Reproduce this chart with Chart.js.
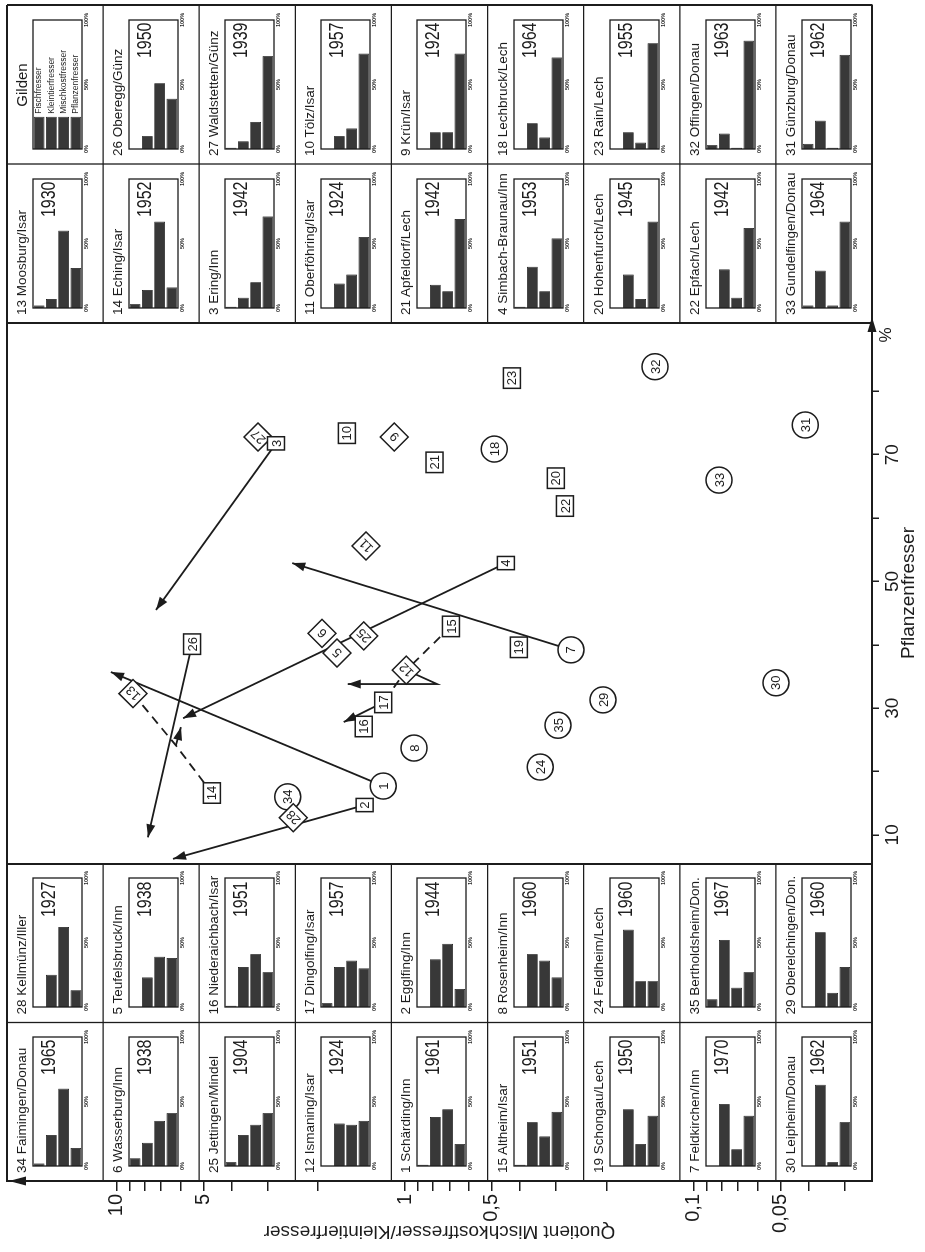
<!DOCTYPE html>
<html lang="de">
<head>
<meta charset="utf-8">
<title>Gilden – Quotient Mischkostfresser/Kleintierfresser</title>
<script src="https://cdn.jsdelivr.net/npm/chart.js@4.4.1/dist/chart.umd.min.js"></script>
<style>
  html, body { margin: 0; padding: 0; background: #fff; }
  body { width: 925px; height: 1252px; overflow: hidden; position: relative; }
  #sheet {
    position: absolute; left: 0; top: 0; width: 1252px; height: 925px;
    transform-origin: 0 0; transform: translate(0, 1252px) rotate(-90deg);
    font-family: "Liberation Sans", Arial, Helvetica, sans-serif; color: #1c1c1c;
  }
  #main { position: absolute; left: 0; top: 0; }
  .panel { position: absolute; }
  .panel canvas { position: absolute; left: 0; top: 0; }
  .ptitle { position: absolute; left: 8px; top: 6px; font-size: 13.5px; line-height: 17px; white-space: nowrap; }
  .ptitle.legend { left: 0; right: 0; text-align: center; font-size: 15px; }
  .pyear {
    position: absolute; right: 17px; top: 31px; font-size: 20px; line-height: 21px;
    transform: scaleX(0.8); transform-origin: 100% 50%; white-space: nowrap;
  }
</style>
</head>
<body>
<div id="sheet">
  <canvas id="main" width="1252" height="925"></canvas>
</div>
<script>
// ---- data (site number = index + 1) ----
const siteNames = ["Schärding/Inn", "Egglfing/Inn", "Ering/Inn", "Simbach-Braunau/Inn", "Teufelsbruck/Inn",
  "Wasserburg/Inn", "Feldkirchen/Inn", "Rosenheim/Inn", "Krün/Isar", "Tölz/Isar", "Oberföhring/Isar",
  "Ismaning/Isar", "Moosburg/Isar", "Eching/Isar", "Altheim/Isar", "Niederaichbach/Isar", "Dingolfing/Isar",
  "Lechbruck/Lech", "Schongau/Lech", "Hohenfurch/Lech", "Apfeldorf/Lech", "Epfach/Lech", "Rain/Lech",
  "Feldheim/Lech", "Jettingen/Mindel", "Oberegg/Günz", "Waldstetten/Günz", "Kellmünz/Iller",
  "Oberelchingen/Don.", "Leipheim/Donau", "Günzburg/Donau", "Offingen/Donau", "Gundelfingen/Donau",
  "Faimingen/Donau", "Bertholdsheim/Don."];
const siteYears = [1961, 1944, 1942, 1953, 1938, 1938, 1970, 1960, 1924, 1957, 1924, 1924, 1930, 1952, 1951,
  1951, 1957, 1964, 1950, 1945, 1942, 1942, 1955, 1960, 1904, 1950, 1939, 1927, 1960, 1962, 1962, 1963, 1964,
  1965, 1967];

// guild shares in % per site
const fischfresser     = [1, 0, 1, 1, 0, 6, 0, 0, 0, 0, 0, 0, 2, 3, 1, 1, 3, 0, 0, 0, 0, 0, 0, 0, 3, 0, 1, 0, 0, 0, 4, 3, 2, 2, 6];
const kleintierfresser = [38, 37, 8, 32, 23, 18, 48, 41, 13, 10, 19, 33, 7, 14, 34, 31, 31, 20, 44, 26, 18, 30, 13, 60, 24, 10, 6, 25, 58, 63, 22, 12, 29, 24, 52];
const mischkostfresser = [44, 49, 20, 13, 39, 35, 13, 36, 13, 16, 26, 32, 60, 67, 23, 41, 36, 9, 17, 7, 13, 8, 5, 20, 32, 51, 21, 62, 11, 3, 1, 1, 2, 60, 15];
const pflanzenfresser  = [17, 14, 71, 54, 38, 41, 39, 23, 74, 74, 55, 35, 31, 16, 42, 27, 30, 71, 39, 67, 69, 62, 82, 20, 41, 39, 72, 13, 31, 34, 73, 84, 67, 14, 27];

const guildNames = ["Fischfresser", "Kleintierfresser", "Mischkostfresser", "Pflanzenfresser"];
const legendBarLength = [25, 25, 25, 25];
const pctTicks = [0, 50, 100];

// scatter: Pflanzenfresser % (x) and quotient (log y)
const scatterP = [17.7, 14.7, 71.8, 52.9, 38.7, 41.8, 39.2, 23.7, 72.8, 73.4, 55.6, 36.0, 32.3, 16.6, 42.9, 27.1,
  30.9, 70.9, 39.6, 66.3, 68.8, 61.9, 82.1, 20.7, 41.4, 40.1, 72.8, 12.7, 31.3, 34.0, 74.7, 83.9, 66.0, 16.0, 27.3];
const scatterQ = [1.19, 1.38, 2.80, 0.447, 1.72, 1.94, 0.266, 0.93, 1.09, 1.59, 1.365, 0.99, 8.77, 4.67, 0.693,
  1.39, 1.19, 0.49, 0.403, 0.30, 0.79, 0.279, 0.426, 0.34, 1.39, 5.47, 3.23, 2.44, 0.206, 0.0518, 0.041, 0.136,
  0.0816, 2.55, 0.295];
const markerShape = ["circle", "square", "square", "square", "diamond", "diamond", "circle", "circle", "diamond",
  "square", "diamond", "diamond", "diamond", "square", "square", "square", "square", "circle", "square", "square",
  "square", "square", "square", "circle", "diamond", "square", "diamond", "diamond", "circle", "circle", "circle",
  "circle", "circle", "circle", "circle"];

// arrows from a site to a free end point
const arrowStartSite = [3, 7, 4, 1, 26, 2, 17];
const arrowEndP = [45.5, 52.9, 28.4, 35.7, 9.6, 6.2, 27.8];
const arrowEndQ = [7.3, 2.46, 5.88, 10.45, 7.78, 6.37, 1.63];
// site 12: kink, then arrow back
const kinkP = [33.8, 33.8];
const kinkQ = [0.774, 1.58];
// sites 13 / 14: dashed to a fork, short arrow from the fork
const forkP = [24.1, 27.0];
const forkQ = [6.22, 5.98];
const dashedChain = [15, 12, 17];

// axes
const pTicks = [10, 20, 30, 40, 50, 60, 70, 80];
const pLabels = [10, 30, 50, 70];
const quotientTicks = [0.03, 0.04, 0.05, 0.06, 0.07, 0.08, 0.09, 0.1, 0.2, 0.3, 0.4, 0.5, 0.6, 0.7, 0.8, 0.9,
  1, 2, 3, 4, 5, 6, 7, 8, 9, 10];
const quotientLabelValues = [10, 5, 1, 0.5, 0.1, 0.05];
const quotientLabelTexts = ["10", "5", "1", "0,5", "0,1", "0,05"];

// panel layout: columns of the rotated sheet, 0 = legend "Gilden"
const columnSites = [
  [34, 6, 25, 12, 1, 15, 19, 7, 30],
  [28, 5, 16, 17, 2, 8, 24, 35, 29],
  [13, 14, 3, 11, 21, 4, 20, 22, 33],
  [0, 26, 27, 10, 9, 18, 23, 32, 31]
];

// ---- layout ----
const INK = "#1c1c1c";
const BAR_FILL = "#383838";
const FONT = "'Liberation Sans', Arial, Helvetica, sans-serif";
const AREA = { left: 71, top: 7, right: 1247, bottom: 872 };
const COL_LEFT = [71, 229.5, 929, 1088];
const LOWER_END = 388;
const UPPER_START = 929;
const ROW_H = (AREA.bottom - AREA.top) / 9;
const P_MIN = -44.65, P_MAX = 141.0;
const Q_MIN = 0.02406, Q_MAX = 23.96;

Chart.defaults.font.family = FONT;
Chart.defaults.color = INK;

function strokeLine(ctx, x1, y1, x2, y2) {
  ctx.beginPath();
  ctx.moveTo(x1, y1);
  ctx.lineTo(x2, y2);
  ctx.stroke();
}

function fillHead(ctx, fromX, fromY, tipX, tipY, len, half) {
  const ang = Math.atan2(tipY - fromY, tipX - fromX);
  const bx = tipX - len * Math.cos(ang), by = tipY - len * Math.sin(ang);
  ctx.beginPath();
  ctx.moveTo(tipX, tipY);
  ctx.lineTo(bx + half * Math.sin(ang), by - half * Math.cos(ang));
  ctx.lineTo(bx - half * Math.sin(ang), by + half * Math.cos(ang));
  ctx.closePath();
  ctx.fill();
}

function drawMarker(ctx, shape, x, y, label) {
  ctx.fillStyle = "#fff";
  ctx.strokeStyle = INK;
  ctx.lineWidth = 1.5;
  if (shape === "circle") {
    ctx.beginPath();
    ctx.arc(x, y, 13, 0, Math.PI * 2);
    ctx.fill();
    ctx.stroke();
  } else if (shape === "square") {
    const w = Math.max(13, ctx.measureText(label).width + 6), h = 17;
    ctx.fillRect(x - w / 2, y - h / 2, w, h);
    ctx.strokeRect(x - w / 2, y - h / 2, w, h);
  } else {
    const d = 14;
    ctx.beginPath();
    ctx.moveTo(x, y - d);
    ctx.lineTo(x + d, y);
    ctx.lineTo(x, y + d);
    ctx.lineTo(x - d, y);
    ctx.closePath();
    ctx.fill();
    ctx.stroke();
  }
  ctx.fillStyle = INK;
  if (shape === "diamond") {
    ctx.save();
    ctx.translate(x, y);
    ctx.rotate(-Math.PI / 4);
    ctx.fillText(label, 0, 1);
    ctx.restore();
  } else {
    ctx.fillText(label, x, y + 1);
  }
}

const framePlugin = {
  id: "frame",
  afterDraw(chart) {
    const { ctx, chartArea: a } = chart;
    ctx.save();
    ctx.strokeStyle = INK;
    ctx.fillStyle = INK;
    ctx.lineWidth = 2;
    strokeLine(ctx, a.left, a.top, a.right, a.top);
    strokeLine(ctx, a.right, a.top, a.right, a.bottom);
    strokeLine(ctx, LOWER_END, a.top, LOWER_END, a.bottom);
    strokeLine(ctx, UPPER_START, a.top, UPPER_START, a.bottom);
    ctx.lineWidth = 1.3;
    strokeLine(ctx, COL_LEFT[1], a.top, COL_LEFT[1], a.bottom);
    strokeLine(ctx, COL_LEFT[3], a.top, COL_LEFT[3], a.bottom);
    for (let r = 1; r < 9; r++) {
      const y = a.top + r * ROW_H;
      strokeLine(ctx, a.left, y, LOWER_END, y);
      strokeLine(ctx, UPPER_START, y, a.right, y);
    }
    // axis arrows
    fillHead(ctx, a.left, a.top + 30, a.left, a.top + 2, 17, 4.5);
    fillHead(ctx, UPPER_START - 30, a.bottom, UPPER_START + 6, a.bottom, 15, 4.5);
    ctx.font = `17px ${FONT}`;
    ctx.textAlign = "center";
    ctx.textBaseline = "middle";
    ctx.fillText("%", UPPER_START - 12, a.bottom + 14);
    ctx.restore();
  }
};

const arrowHeadPlugin = {
  id: "arrowHeads",
  afterDatasetsDraw(chart) {
    const ctx = chart.ctx;
    ctx.save();
    ctx.fillStyle = INK;
    chart.data.datasets.forEach((ds, i) => {
      if (!ds.arrowHead) return;
      const pts = chart.getDatasetMeta(i).data;
      const a = pts[pts.length - 2], b = pts[pts.length - 1];
      fillHead(ctx, a.x, a.y, b.x, b.y, 13, 4.5);
    });
    ctx.restore();
  }
};

const markerPlugin = {
  id: "markers",
  afterDatasetsDraw(chart) {
    const ctx = chart.ctx;
    const meta = chart.getDatasetMeta(0);
    ctx.save();
    ctx.font = `13px ${FONT}`;
    ctx.textAlign = "center";
    ctx.textBaseline = "middle";
    ["circle", "diamond", "square"].forEach(shape => {
      meta.data.forEach((pt, i) => {
        if (markerShape[i] === shape) drawMarker(ctx, shape, pt.x, pt.y, String(i + 1));
      });
    });
    ctx.restore();
  }
};

function sitePoint(site) {
  return { x: scatterP[site - 1], y: scatterQ[site - 1] };
}

function lineSet(data, dashed, head) {
  return {
    data, showLine: true, pointRadius: 0, borderColor: INK, borderWidth: 1.8,
    borderDash: dashed ? [9, 6] : [], arrowHead: head
  };
}

function buildDatasets() {
  const sets = [{ data: scatterP.map((p, i) => ({ x: p, y: scatterQ[i] })), pointRadius: 0, showLine: false }];
  arrowStartSite.forEach((s, i) => {
    sets.push(lineSet([sitePoint(s), { x: arrowEndP[i], y: arrowEndQ[i] }], false, true));
  });
  sets.push(lineSet([sitePoint(12), { x: kinkP[0], y: kinkQ[0] }, { x: kinkP[1], y: kinkQ[1] }], false, true));
  sets.push(lineSet([sitePoint(13), { x: forkP[0], y: forkQ[0] }, sitePoint(14)], true, false));
  sets.push(lineSet([{ x: forkP[0], y: forkQ[0] }, { x: forkP[1], y: forkQ[1] }], false, true));
  sets.push(lineSet(dashedChain.map(sitePoint), true, false));
  return sets;
}

function quotientLabel(v) {
  const i = quotientLabelValues.findIndex(t => Math.abs(t - v) < t * 1e-6);
  return i < 0 ? "" : quotientLabelTexts[i];
}

function createMainChart() {
  const ctx = document.getElementById("main").getContext("2d");
  return new Chart(ctx, {
    type: "scatter",
    data: { datasets: buildDatasets() },
    options: {
      responsive: false,
      animation: false,
      events: [],
      layout: { padding: { top: AREA.top, right: 1252 - AREA.right, left: 0, bottom: 0 } },
      plugins: { legend: { display: false }, tooltip: { enabled: false } },
      scales: {
        x: {
          type: "linear", min: P_MIN, max: P_MAX,
          afterBuildTicks(scale) { scale.ticks = pTicks.map(v => ({ value: v })); },
          ticks: {
            callback: v => (pLabels.includes(v) ? String(v) : ""),
            font: { size: 19 }, color: INK, padding: 2, maxRotation: 0, autoSkip: false
          },
          grid: { drawOnChartArea: false, drawTicks: true, tickLength: 7, color: INK, lineWidth: 1.5 },
          border: { display: true, color: INK, width: 2 },
          title: { display: true, text: "Pflanzenfresser", font: { size: 19 }, color: INK, padding: { top: 0, bottom: 5 } },
          afterFit(scale) {
            scale.height = 925 - AREA.bottom;
            scale.paddingLeft = 0;
            scale.paddingRight = 0;
          }
        },
        y: {
          type: "logarithmic", min: Q_MIN, max: Q_MAX,
          afterBuildTicks(scale) { scale.ticks = quotientTicks.map(v => ({ value: v })); },
          ticks: { callback: v => quotientLabel(v), font: { size: 20 }, color: INK, padding: 3, autoSkip: false },
          grid: { drawOnChartArea: false, drawTicks: true, tickLength: 10, color: INK, lineWidth: 1.5 },
          border: { display: true, color: INK, width: 2 },
          title: {
            display: true, text: "Quotient Mischkostfresser/Kleintierfresser",
            font: { size: 19 }, color: INK, padding: { top: 9, bottom: 0 }
          },
          afterFit(scale) {
            scale.width = AREA.left;
            scale.paddingTop = 0;
            scale.paddingBottom = 0;
          }
        }
      }
    },
    plugins: [framePlugin, arrowHeadPlugin, markerPlugin]
  });
}

// ---- small guild panels ----
const boxOutline = {
  id: "boxOutline",
  afterDatasetsDraw(chart) {
    const { ctx, chartArea: a } = chart;
    ctx.save();
    ctx.strokeStyle = INK;
    ctx.lineWidth = 1.3;
    ctx.strokeRect(a.left, a.top, a.right - a.left, a.bottom - a.top);
    ctx.restore();
  }
};

const guildLabelPlugin = {
  id: "guildLabels",
  afterDatasetsDraw(chart) {
    const ctx = chart.ctx;
    const meta = chart.getDatasetMeta(0);
    ctx.save();
    ctx.fillStyle = INK;
    ctx.font = `8.5px ${FONT}`;
    ctx.textAlign = "left";
    ctx.textBaseline = "middle";
    meta.data.forEach((bar, i) => ctx.fillText(guildNames[i], bar.x + 3, bar.y));
    ctx.restore();
  }
};

function createPanel(site, col, row) {
  const panel = document.createElement("div");
  panel.className = "panel";
  const w = 158, h = 96;
  panel.style.left = `${COL_LEFT[col]}px`;
  panel.style.top = `${AREA.top + row * ROW_H}px`;
  panel.style.width = `${w}px`;
  panel.style.height = `${h}px`;

  const canvas = document.createElement("canvas");
  canvas.width = w;
  canvas.height = h;
  panel.appendChild(canvas);

  const title = document.createElement("div");
  title.className = site === 0 ? "ptitle legend" : "ptitle";
  title.textContent = site === 0 ? "Gilden" : `${site} ${siteNames[site - 1]}`;
  panel.appendChild(title);

  if (site !== 0) {
    const year = document.createElement("div");
    year.className = "pyear";
    year.textContent = siteYears[site - 1];
    panel.appendChild(year);
  }
  document.getElementById("sheet").appendChild(panel);

  const i = site - 1;
  const values = site === 0
    ? legendBarLength
    : [fischfresser[i], kleintierfresser[i], mischkostfresser[i], pflanzenfresser[i]];

  new Chart(canvas.getContext("2d"), {
    type: "bar",
    data: {
      labels: guildNames,
      datasets: [{
        data: values, backgroundColor: BAR_FILL, borderColor: "#111", borderWidth: 0.8,
        barPercentage: 0.88, categoryPercentage: 1
      }]
    },
    options: {
      indexAxis: "y",
      responsive: false,
      animation: false,
      events: [],
      layout: { padding: { left: 15, right: 14, top: 26, bottom: 12 } },
      plugins: { legend: { display: false }, tooltip: { enabled: false } },
      scales: {
        x: {
          min: 0, max: 100,
          afterBuildTicks(scale) { scale.ticks = pctTicks.map(v => ({ value: v })); },
          ticks: { callback: v => `${v}%`, font: { size: 5.5, weight: "bold" }, color: INK, padding: 1, maxRotation: 0, autoSkip: false },
          grid: { display: false, drawTicks: false },
          border: { display: false },
          afterFit(scale) {
            scale.height = 9;
            scale.paddingLeft = 0;
            scale.paddingRight = 0;
          }
        },
        y: { display: false }
      }
    },
    plugins: site === 0 ? [boxOutline, guildLabelPlugin] : [boxOutline]
  });
}

function init() {
  createMainChart();
  columnSites.forEach((sites, col) => {
    sites.forEach((site, row) => createPanel(site, col, row));
  });
}

document.addEventListener("DOMContentLoaded", init);
</script>
</body>
</html>
